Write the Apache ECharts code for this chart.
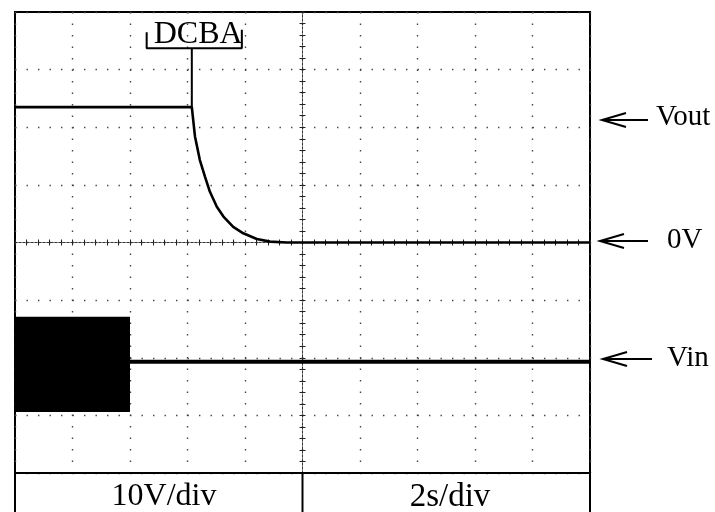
<!DOCTYPE html>
<html><head><meta charset="utf-8">
<script src="https://cdn.jsdelivr.net/npm/echarts@6/dist/echarts.min.js"></script>
<style>html,body{margin:0;padding:0;background:#fff}#c{width:715px;height:512px}</style>
</head><body><div id="c"></div>
<script>
// Time in seconds relative to screen centre (2 s/div), voltage in V (10 V/div)
const voutT = [-10, -3.85, -3.74, -3.57, -3.39, -3.22, -2.98, -2.75, -2.41, -2.06, -1.59, -1.13, -0.55, 10];
const voutV = [23.5, 23.5, 18.4, 14.3, 11.4, 8.8, 6.2, 4.5, 2.7, 1.6, 0.6, 0.15, 0, 0];
const markerT = [-3.85, -3.85];
const markerV = [23.5, 33.7];
const bracketT = [-5.42, -5.42, -2.11, -2.11];
const bracketV = [36.5, 33.7, 33.7, 36.9];
const bracketLabel = 'DCBA';
const bracketLabelPos = [-3.63, 36.0];
const vinBlockT = [-10, -6.0];
const vinBlockV = [-12.9, -29.4];
const vinLineT = [-6.0, 10];
const vinLineV = [-20.7, -20.7];
const traceLabels = ['Vout', '0V', 'Vin'];
const scaleLabels = ['10V/div', '2s/div'];

const zip = (a, b) => a.map((v, i) => [v, b[i]]);
const FONT = '"Liberation Serif", "Times New Roman", serif';

const chart = echarts.init(document.getElementById('c'), null, {renderer: 'canvas'});

const tickStyle = {color: '#222', width: 1};
function xAx(pos, split) {
  return {
    type: 'value', min: -10, max: 10, interval: 2, position: pos,
    axisLine: {show: true, onZero: true, lineStyle: {color: '#333', width: 1, type: [2, 2]}},
    axisTick: {show: true, length: 3, lineStyle: tickStyle},
    minorTick: {show: true, splitNumber: 5, length: 3, lineStyle: tickStyle},
    axisLabel: {show: false},
    splitLine: {show: split, lineStyle: {color: '#444', width: 1.4, type: [1.4, 10.1]}}
  };
}
function yAx(pos, split) {
  return {
    type: 'value', min: -40, max: 40, interval: 10, position: pos,
    axisLine: {show: true, onZero: true, lineStyle: {color: '#333', width: 1, type: [2, 2]}},
    axisTick: {show: true, length: 3, lineStyle: tickStyle},
    minorTick: {show: true, splitNumber: 5, length: 3, lineStyle: tickStyle},
    axisLabel: {show: false},
    splitLine: {show: split, lineStyle: {color: '#444', width: 1.4, type: [1.4, 10.1]}}
  };
}

const lineSeries = (name, data, w) => ({
  name, type: 'line', data, showSymbol: false, symbol: 'none',
  lineStyle: {color: '#000', width: w}, z: 5, silent: true
});

const vinSeries = lineSeries('Vin', zip(vinLineT, vinLineV), 4);
vinSeries.markArea = {
  silent: true,
  itemStyle: {color: '#000', opacity: 1},
  data: [[{coord: [vinBlockT[0], vinBlockV[0]]}, {coord: [vinBlockT[1], vinBlockV[1]]}]]
};

chart.setOption({
  animation: false,
  backgroundColor: '#fff',
  grid: {left: 15, right: 125, top: 12, bottom: 39, show: true, borderColor: '#000', borderWidth: 2, backgroundColor: 'transparent', containLabel: false},
  xAxis: [xAx('bottom', true), xAx('top', false)],
  yAxis: [yAx('left', true), yAx('right', false)],
  series: [
    lineSeries('Vout', zip(voutT, voutV), 2.6),
    lineSeries('marker', zip(markerT, markerV), 2),
    lineSeries('bracket', zip(bracketT, bracketV), 2),
    vinSeries
  ]
});

// annotations
const p = chart.convertToPixel({gridIndex: 0}, bracketLabelPos);
const g = [];
g.push({type: 'text', x: p[0], y: p[1], style: {text: bracketLabel, font: '32px ' + FONT, fill: '#000', align: 'center', verticalAlign: 'middle'}, z: 10});

// bottom scale box
g.push({type: 'rect', shape: {x: 15, y: 473, width: 575, height: 42}, style: {fill: 'none', stroke: '#000', lineWidth: 2}, z: 10});
g.push({type: 'line', shape: {x1: 302.5, y1: 473, x2: 302.5, y2: 515}, style: {stroke: '#000', lineWidth: 2}, z: 10});
g.push({type: 'text', x: 164, y: 497, style: {text: scaleLabels[0], font: '32px ' + FONT, fill: '#000', align: 'center', verticalAlign: 'middle'}, z: 10});
g.push({type: 'text', x: 450, y: 497, style: {text: scaleLabels[1], font: '33px ' + FONT, fill: '#000', align: 'center', verticalAlign: 'middle'}, z: 10});

// right-side trace labels with arrows
const arrows = [
  {tip: 602, end: 648, y: 120, tx: 656, ty: 117},
  {tip: 600, end: 648, y: 241, tx: 667, ty: 240},
  {tip: 603, end: 652, y: 359, tx: 667, ty: 358}
];
arrows.forEach((a, i) => {
  g.push({type: 'line', shape: {x1: a.tip, y1: a.y, x2: a.end, y2: a.y}, style: {stroke: '#000', lineWidth: 2}, z: 10});
  g.push({type: 'polyline', shape: {points: [[a.tip + 24, a.y - 7], [a.tip, a.y], [a.tip + 24, a.y + 7]]}, style: {stroke: '#000', lineWidth: 2, fill: 'none'}, z: 10});
  g.push({type: 'text', x: a.tx, y: a.ty, style: {text: traceLabels[i], font: '29px ' + FONT, fill: '#000', align: 'left', verticalAlign: 'middle'}, z: 10});
});
chart.setOption({graphic: g});
</script></body></html>
